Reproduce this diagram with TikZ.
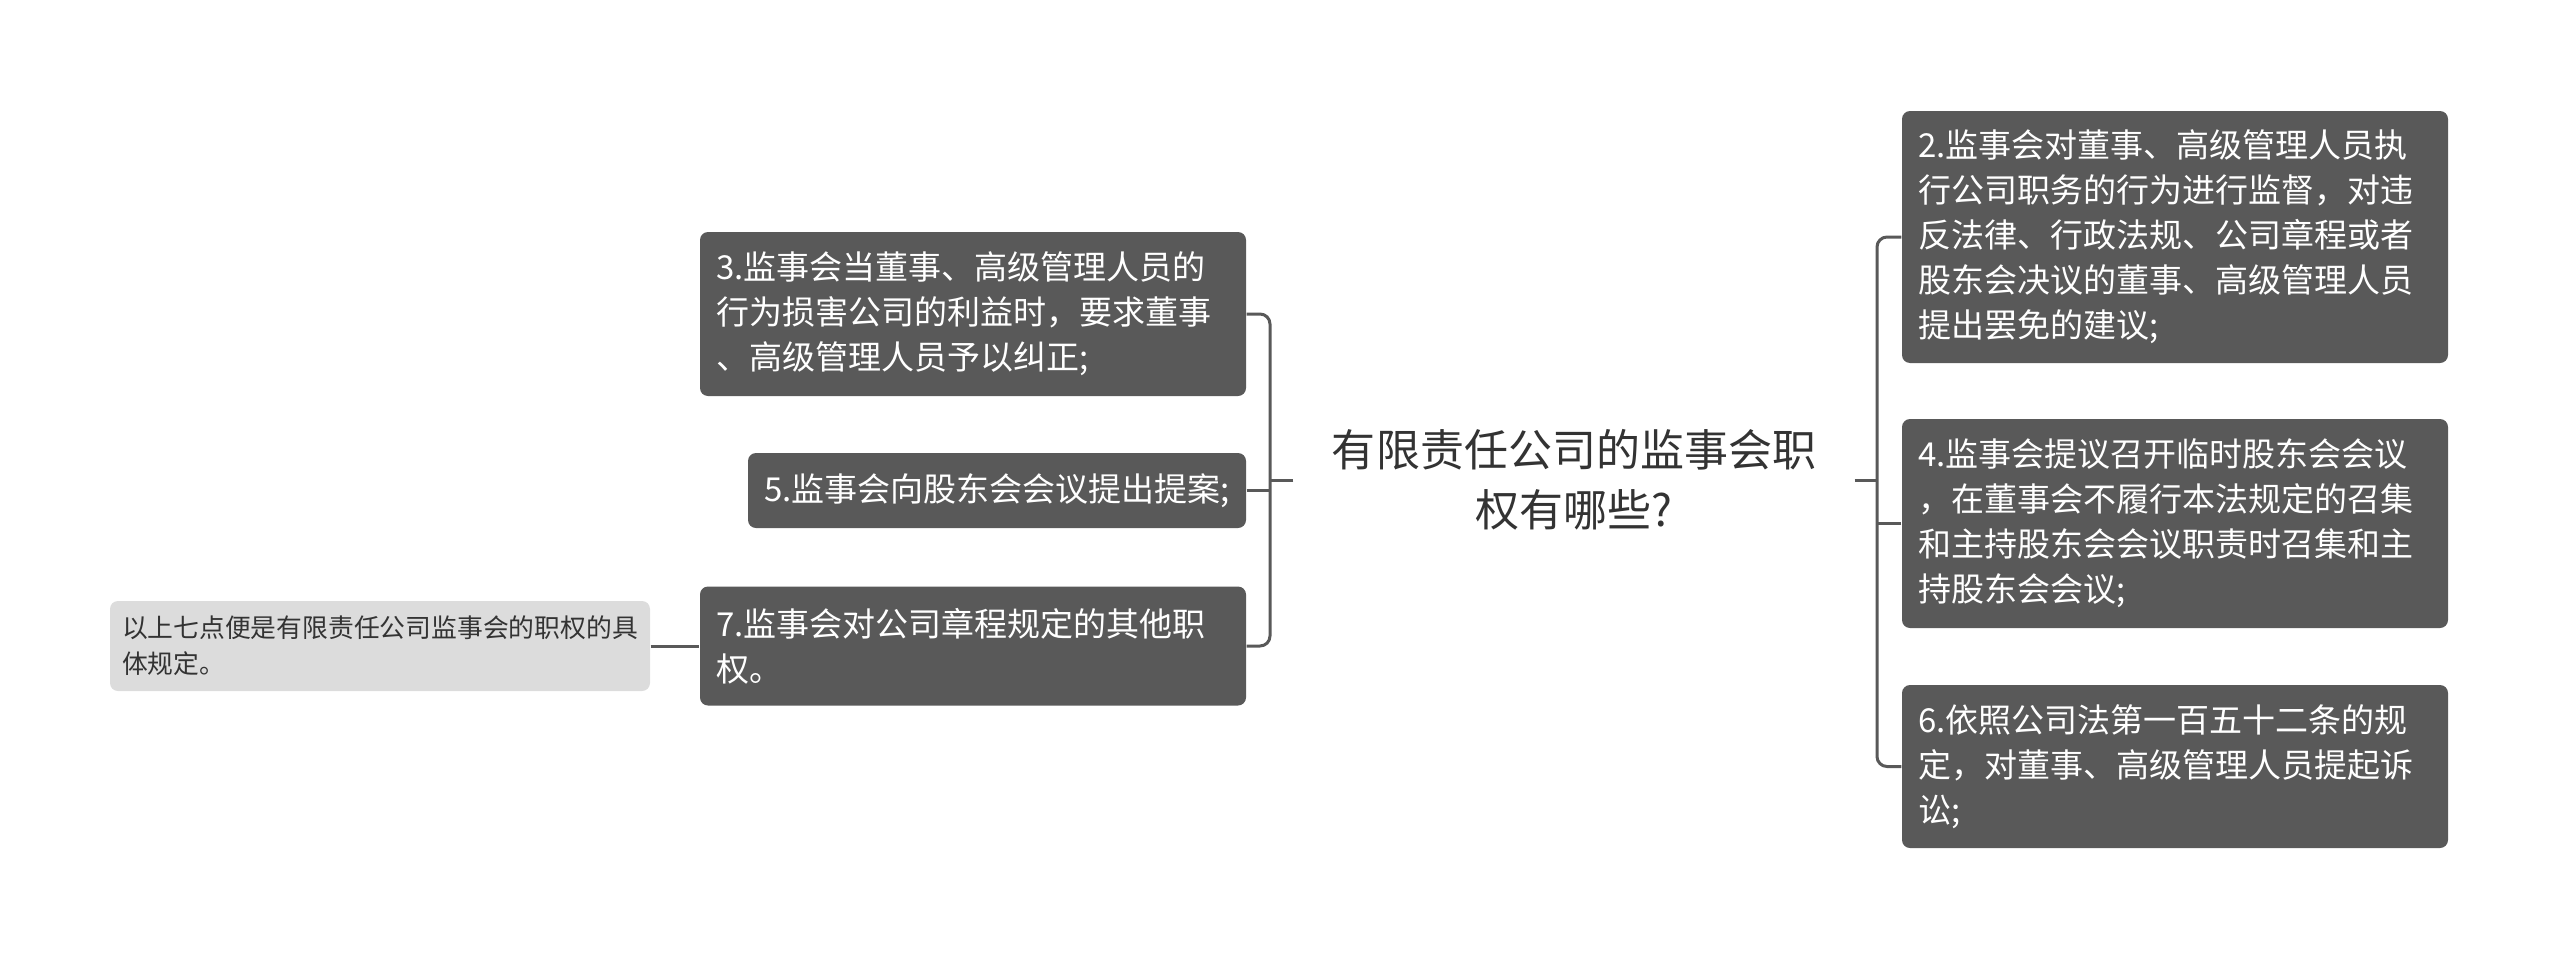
\documentclass[tikz,border=0pt]{standalone}
\usepackage{fontspec}
\setmainfont{Noto Sans CJK SC}
\usepackage{xcolor}
\usepackage{tikz}
\usetikzlibrary{calc,positioning}
\definecolor{boxgray}{HTML}{595959}
\definecolor{notegray}{HTML}{DCDCDC}
\definecolor{inkgray}{HTML}{333333}

\begin{document}
\begin{tikzpicture}[x = 0.1mm, y = -0.1mm]
	\tikzstyle{item} = [rectangle, rounded corners = 0.8mm, fill = boxgray, text = white, align = left, text width = 51.4mm, inner xsep = 1.6mm, inner ysep = 0mm, font = \fontsize{9.39pt}{12.8pt}\selectfont]
	\tikzstyle{note} = [rectangle, rounded corners = 0.8mm, fill = notegray, text = inkgray, align = left, text width = 51.6mm, inner xsep = 1.2mm, inner ysep = 0mm, font = \fontsize{7.34pt}{10.24pt}\selectfont]
	\tikzstyle{link} = [draw = boxgray, line width = 0.3mm, rounded corners = 1mm]
\useasboundingbox (0,0) rectangle (2560,960);

\node[align = center, text = inkgray, inner sep = 0, minimum width = 56mm, font = \fontsize{12.52pt}{17.07pt}\selectfont] (0) at (1574, 480) {有限责任公司的监事会职\\权有哪些?};

\node[item, minimum height = 25.2mm] (2) at (2175, 237) {2.监事会对董事、高级管理人员执\\行公司职务的行为进行监督，对违\\反法律、行政法规、公司章程或者\\股东会决议的董事、高级管理人员\\提出罢免的建议;};
\node[item, minimum height = 20.9mm] (4) at (2175, 523.5) {4.监事会提议召开临时股东会会议\\，在董事会不履行本法规定的召集\\和主持股东会会议职责时召集和主\\持股东会会议;};
\node[item, minimum height = 16.3mm] (6) at (2175, 766.5) {6.依照公司法第一百五十二条的规\\定，对董事、高级管理人员提起诉\\讼;};

\node[item, minimum height = 16.4mm] (3) at (973, 314) {3.监事会当董事、高级管理人员的\\行为损害公司的利益时，要求董事\\、高级管理人员予以纠正;};
\node[item, minimum height = 7.5mm, text width = 46.6mm] (5) at (997, 490.5) {5.监事会向股东会会议提出提案;};
\node[item, minimum height = 11.9mm] (7) at (973, 646) {7.监事会对公司章程规定的其他职\\权。};

\node[note, minimum height = 9mm] (8) at (380, 646) {以上七点便是有限责任公司监事会的职权的具\\体规定。};

\coordinate (l) at (1270, 480);
\coordinate (r) at (1877, 480);

	\path[link] (0.west) -- (l);
	\path[link] (3.east) -| (l) |- (7.east);
	\path[link] (5.east) -- (l |- 5.east);
	\path[link] (0.east) -- (r);
	\path[link] (2.west) -| (r) |- (6.west);
	\path[link] (4.west) -- (r |- 4.west);
	\path[link] (8.east) -- (7.west);
\end{tikzpicture}
\end{document}
